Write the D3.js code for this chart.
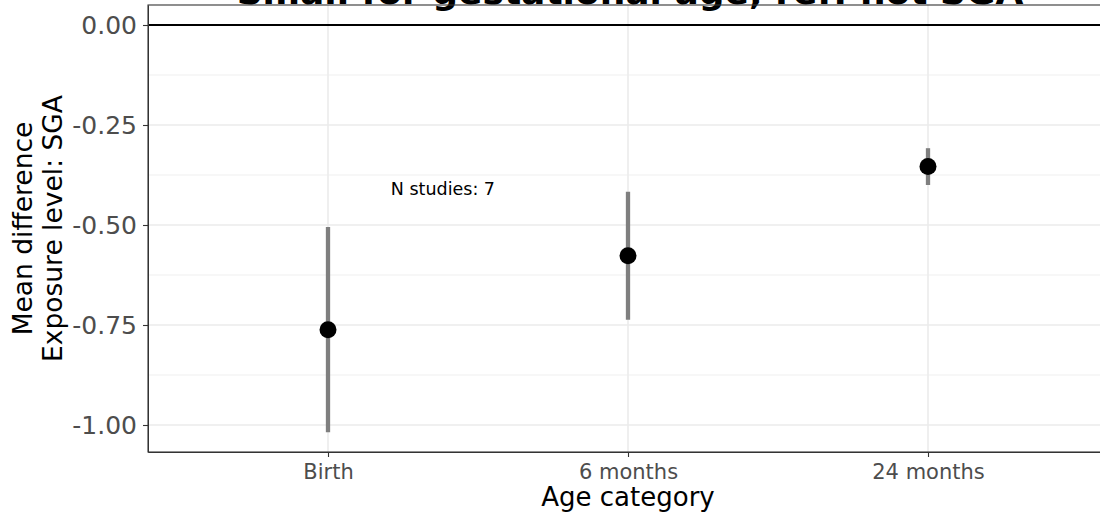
<!DOCTYPE html>
<html>
<head>
<meta charset="utf-8">
<script src="https://cdn.jsdelivr.net/npm/d3@7"></script>
<style>
  body { margin: 0; background: #fff; }
  svg { display: block; font-family: "DejaVu Sans", sans-serif; }
</style>
</head>
<body>
<svg id="chart" width="1100" height="517"></svg>
<script>
const categories = ["Birth", "6 months", "24 months"];
const estimates = [-0.762, -0.577, -0.354];
const lower = [-1.018, -0.737, -0.400];
const upper = [-0.505, -0.417, -0.308];
const yTicks = [0, -0.25, -0.5, -0.75, -1.0];
const yMinor = [-0.125, -0.375, -0.625, -0.875];
const yTickLabels = ["0.00", "-0.25", "-0.50", "-0.75", "-1.00"];
const titleText = "Small for gestational age, ref: not SGA";
const annotation = { x: 1.383, y: -0.41, label: "N studies: 7" };

const svg = d3.select("#chart");
const panel = { left: 148, top: 5, right: 1108, bottom: 452 };

const x = d3.scalePoint().domain(categories).range([panel.left, panel.right]).padding(0.6);
const xIdx = d3.scaleLinear().domain([1, 3]).range([x(categories[0]), x(categories[2])]);
const y = d3.scaleLinear().domain([0.05, -1.0675]).range([panel.top, panel.bottom]);

const data = categories.map((c, i) => ({ c, est: estimates[i], lo: lower[i], hi: upper[i] }));

// grid
const g = svg.append("g");
g.selectAll("line.minor").data(yMinor).join("line")
  .attr("x1", panel.left).attr("x2", panel.right)
  .attr("y1", d => y(d)).attr("y2", d => y(d))
  .attr("stroke", "#ebebeb").attr("stroke-width", 0.8);
g.selectAll("line.major").data(yTicks).join("line")
  .attr("x1", panel.left).attr("x2", panel.right)
  .attr("y1", d => y(d)).attr("y2", d => y(d))
  .attr("stroke", "#ebebeb").attr("stroke-width", 1.6);
g.selectAll("line.vmajor").data(categories).join("line")
  .attr("x1", d => x(d)).attr("x2", d => x(d))
  .attr("y1", panel.top).attr("y2", panel.bottom)
  .attr("stroke", "#ebebeb").attr("stroke-width", 1.6);

// zero line
svg.append("line")
  .attr("x1", panel.left).attr("x2", panel.right)
  .attr("y1", y(0)).attr("y2", y(0))
  .attr("stroke", "#000").attr("stroke-width", 2);

// title (partly cropped at the top edge, as in the reference)
svg.append("text")
  .attr("x", 630).attr("y", 4)
  .attr("text-anchor", "middle")
  .attr("font-size", 36).attr("font-weight", "bold")
  .attr("fill", "#000")
  .text(titleText);

// error bars
svg.selectAll("line.err").data(data).join("line")
  .attr("x1", d => x(d.c)).attr("x2", d => x(d.c))
  .attr("y1", d => y(d.lo)).attr("y2", d => y(d.hi))
  .attr("stroke", "#7f7f7f").attr("stroke-width", 4.3);

// points
svg.selectAll("circle.pt").data(data).join("circle")
  .attr("cx", d => x(d.c)).attr("cy", d => y(d.est))
  .attr("r", 8.5).attr("fill", "#000");

// annotation
svg.append("text")
  .attr("x", xIdx(annotation.x)).attr("y", y(annotation.y))
  .attr("dy", "0.36em")
  .attr("text-anchor", "middle")
  .attr("font-size", 17.5).attr("fill", "#000")
  .text(annotation.label);

// panel border
svg.append("rect")
  .attr("x", panel.left).attr("y", panel.top)
  .attr("width", panel.right - panel.left).attr("height", panel.bottom - panel.top)
  .attr("fill", "none").attr("stroke", "#333").attr("stroke-width", 1.1);

// axes
const xAxis = d3.axisBottom(x).tickSizeOuter(0).tickSizeInner(5).tickPadding(7);
const xa = svg.append("g").attr("transform", `translate(0,${panel.bottom})`).call(xAxis);
xa.select(".domain").attr("stroke", "#333");
xa.selectAll(".tick line").attr("stroke", "#333").attr("stroke-width", 1.1);
xa.selectAll(".tick text").attr("font-size", 21).attr("fill", "#4d4d4d")
  .attr("font-family", "DejaVu Sans");

const yAxis = d3.axisLeft(y).tickValues(yTicks).tickFormat((d, i) => yTickLabels[i])
  .tickSizeOuter(0).tickSizeInner(5).tickPadding(6);
const ya = svg.append("g").attr("transform", `translate(${panel.left},0)`).call(yAxis);
ya.select(".domain").attr("stroke", "#333");
ya.selectAll(".tick line").attr("stroke", "#333").attr("stroke-width", 1.1);
ya.selectAll(".tick text").attr("font-size", 25).attr("fill", "#4d4d4d")
  .attr("font-family", "DejaVu Sans");

// axis titles
svg.append("text")
  .attr("x", (panel.left + panel.right) / 2 - 0).attr("y", 506)
  .attr("text-anchor", "middle").attr("font-size", 26).attr("fill", "#000")
  .text("Age category");

const yt = svg.append("text")
  .attr("transform", `translate(32,${(panel.top + panel.bottom) / 2}) rotate(-90)`)
  .attr("text-anchor", "middle").attr("font-size", 26.5).attr("fill", "#000");
yt.append("tspan").attr("x", 0).attr("y", 0).text("Mean difference");
yt.append("tspan").attr("x", 0).attr("y", 30).text("Exposure level: SGA");
</script>
</body>
</html>
